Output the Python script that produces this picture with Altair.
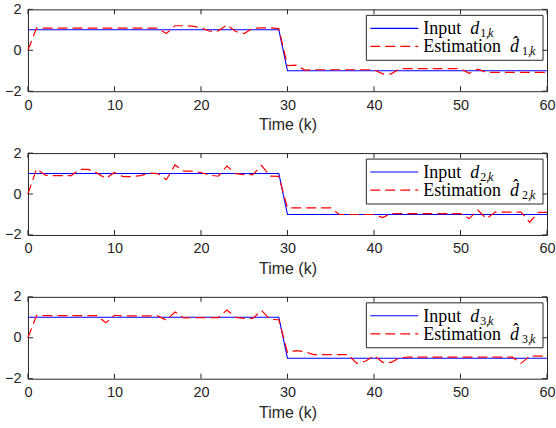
import altair as alt
import pandas as pd

# Time steps and the three input signals (step from +1 to -1 at k = 30)
steps = list(range(61))
input_1 = [1.0] * 30 + [-1.0] * 31
input_2 = [1.0] * 30 + [-1.0] * 31
input_3 = [1.0] * 30 + [-1.0] * 31

# Estimated inputs
est_1 = ([0.0, 1.09] + [1.08] * 14 +
         [0.82, 1.2, 1.2, 1.18, 1.1, 0.93, 0.95, 1.24, 0.92, 0.82, 1.08, 1.1, 1.1, 1.06] +
         [-0.75, -0.73, -0.97] + [-0.95] * 8 +
         [-1.15, -1.15, -0.9] + [-0.9] * 7 +
         [-1.12, -0.92, -1.08] + [-1.08] * 7)
est_2 = ([0.0, 1.23, 0.92, 0.9, 0.9, 0.9, 1.2, 1.2, 1.02, 0.76, 1.05, 0.85, 0.85, 0.9,
          1.02, 1.0, 0.7, 1.42, 1.12, 1.12, 1.05, 0.92, 0.87, 1.37, 1.0, 0.95, 0.95,
          1.4, 0.88, 0.86] +
         [-0.68] * 6 + [-1.0] * 5 +
         [-1.15, -0.95] + [-0.96] * 8 +
         [-1.2, -0.78, -1.2, -0.88, -0.88, -0.88, -0.88, -1.38, -0.9, -0.9])
est_3 = ([0.0, 1.1] + [1.08] * 7 +
         [0.73, 1.1] + [1.07] * 5 +
         [0.86, 1.26, 0.97, 0.98, 0.98, 0.98, 0.98, 1.36, 1.0, 0.95, 0.95, 1.33, 0.9, 0.88] +
         [-0.72, -0.63, -0.68] + [-0.82] * 5 +
         [-1.25, -1.15, -0.87, -1.2, -1.2, -0.97] + [-0.95] * 13 +
         [-1.25, -0.9, -0.9, -0.9])

inputs = [input_1, input_2, input_3]
estimates = [est_1, est_2, est_3]

x_ticks = [0, 10, 20, 30, 40, 50, 60]
y_ticks = [-2, 0, 2]

W, H = 520, 82
FRAME = "#262626"
SANS = "Liberation Sans"
SERIF = "Liberation Serif"
one = pd.DataFrame({"o": [0]})


def panel(i):
    df = pd.DataFrame({"k": steps, "d": inputs[i], "dh": estimates[i]})
    xs = alt.Scale(domain=[0, 60], nice=False, zero=False)
    ys = alt.Scale(domain=[-2, 2], nice=False, zero=False)
    x = alt.X("k:Q", scale=xs,
              axis=alt.Axis(values=x_ticks, title="Time (k)", grid=False, domain=False,
                            ticks=False, tickSize=0, labelPadding=7, titlePadding=5,
                            labelFlush=False))
    y = alt.Y("d:Q", scale=ys,
              axis=alt.Axis(values=y_ticks, title=None, grid=False, domain=False,
                            ticks=False, tickSize=0, labelPadding=7, labelFlush=False,
                            minExtent=20, maxExtent=20))

    base = alt.Chart(df)
    inp = base.mark_line(color="#0000FF", strokeWidth=1.1).encode(x=x, y=y)
    est = base.mark_line(color="#FF0000", strokeWidth=1.2, strokeDash=[10, 5]).encode(
        x="k:Q", y="dh:Q")

    # inward tick marks on all four sides of the box
    xt = alt.Chart(pd.DataFrame({"t": x_ticks}))
    yt = alt.Chart(pd.DataFrame({"t": y_ticks}))
    tick_style = dict(color=FRAME, strokeWidth=1)
    tb = xt.mark_rule(**tick_style).encode(x="t:Q", y=alt.value(H), y2=alt.value(H - 5))
    tt = xt.mark_rule(**tick_style).encode(x="t:Q", y=alt.value(0), y2=alt.value(5))
    tl = yt.mark_rule(**tick_style).encode(y="t:Q", x=alt.value(0), x2=alt.value(5))
    tr = yt.mark_rule(**tick_style).encode(y="t:Q", x=alt.value(W), x2=alt.value(W - 5))

    # legend box
    lg = alt.Chart(one)
    box = lg.mark_rect(fill="white", stroke=FRAME, strokeWidth=1).encode(
        x=alt.value(339), x2=alt.value(516), y=alt.value(6), y2=alt.value(51))
    r1, r2 = 19, 37
    s1 = lg.mark_rule(color="#0000FF", strokeWidth=1.1).encode(
        x=alt.value(343), x2=alt.value(391), y=alt.value(r1))
    s2 = lg.mark_rule(color="#FF0000", strokeWidth=1.2, strokeDash=[10, 5]).encode(
        x=alt.value(343), x2=alt.value(391), y=alt.value(r2))

    def txt(s, xp, yp, size=18, style="normal"):
        return lg.mark_text(text=s, font=SERIF, fontSize=size, fontStyle=style,
                            align="left", baseline="alphabetic", color="black").encode(
            x=alt.value(xp), y=alt.value(yp))

    n = str(i + 1)
    labels = [
        txt("Input", 396, r1 + 6),
        txt("d", 443, r1 + 6, style="italic"),
        txt(n + ",", 453, r1 + 9, size=12),
        txt("k", 461, r1 + 9, size=12, style="italic"),
        txt("Estimation", 396, r2 + 6),
        txt("d\u0302", 483, r2 + 6, style="italic"),
        txt(n + ",", 495, r2 + 9, size=12),
        txt("k", 503, r2 + 9, size=12, style="italic"),
    ]

    return alt.layer(inp, est, tb, tt, tl, tr, box, s1, s2, *labels).properties(
        width=W, height=H)


chart = alt.vconcat(panel(0), panel(1), panel(2), spacing=11).properties(
    padding={"left": 3, "top": 0, "right": 0, "bottom": 0},
    background="white",
).configure_view(stroke=FRAME, strokeWidth=1).configure_axis(
    labelFont=SANS, labelFontSize=14.5, labelColor=FRAME,
    titleFont=SANS, titleFontSize=16, titleColor=FRAME, titleFontWeight="normal",
)

chart.save("out.html", embed_options={"renderer": "svg", "actions": False})
